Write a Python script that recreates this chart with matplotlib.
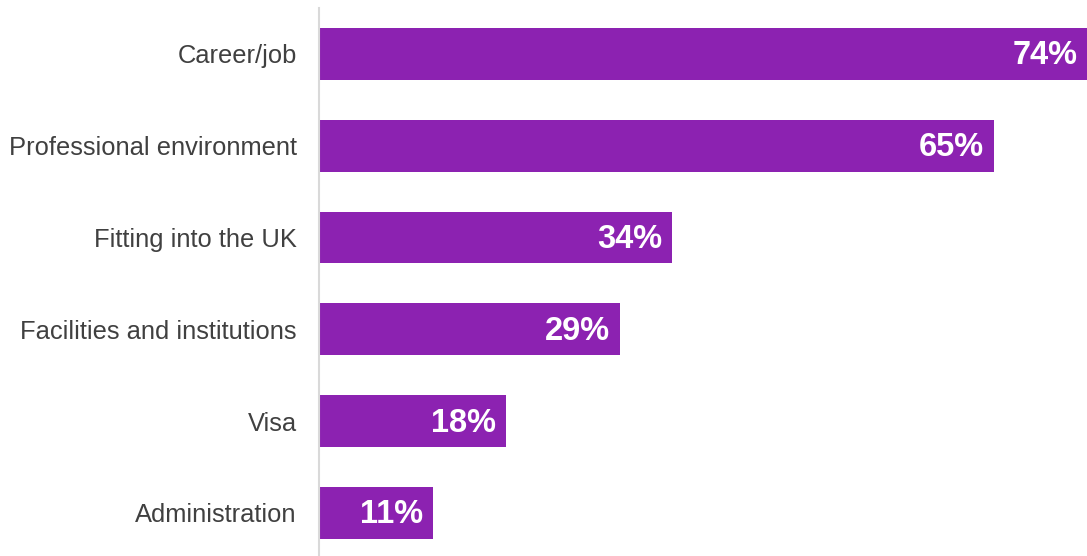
import matplotlib
matplotlib.use("Agg")
import matplotlib.pyplot as plt

categories = [
    "Career/job",
    "Professional environment",
    "Fitting into the UK",
    "Facilities and institutions",
    "Visa",
    "Administration",
]
values = [74, 65, 34, 29, 18, 11]
value_labels = ["74%", "65%", "34%", "29%", "18%", "11%"]

plt.rcParams["font.family"] = ["Liberation Sans", "DejaVu Sans"]

BAR_COLOR = "#8C22B1"
TEXT_COLOR = "#404040"

fig = plt.figure(figsize=(10.87, 5.56), dpi=100)
ax = fig.add_axes([319 / 1087, 0.0, 1 - 319 / 1087, 1 - 8 / 556])

positions = list(range(len(categories)))
ax.barh(positions, values, height=0.566, color=BAR_COLOR, zorder=2)

for pos, val, lab in zip(positions, values, value_labels):
    ax.annotate(lab, xy=(val, pos), xytext=(-7, -1.5), textcoords="offset points",
                ha="right", va="center", color="white", fontsize=23.5,
                fontweight="bold", zorder=3, annotation_clip=False)

ax.set_xlim(0, 74)
ax.set_ylim(5.47, -0.5)
ax.set_yticks(positions)
ax.set_yticklabels(categories, fontsize=18.4, color=TEXT_COLOR)
ax.tick_params(axis="y", length=0, pad=16)
ax.set_xticks([])

for side in ("top", "right", "bottom"):
    ax.spines[side].set_visible(False)
ax.spines["left"].set_color("#d9d9d9")
ax.spines["left"].set_linewidth(1.5)

fig.savefig("out.png", dpi=100)
